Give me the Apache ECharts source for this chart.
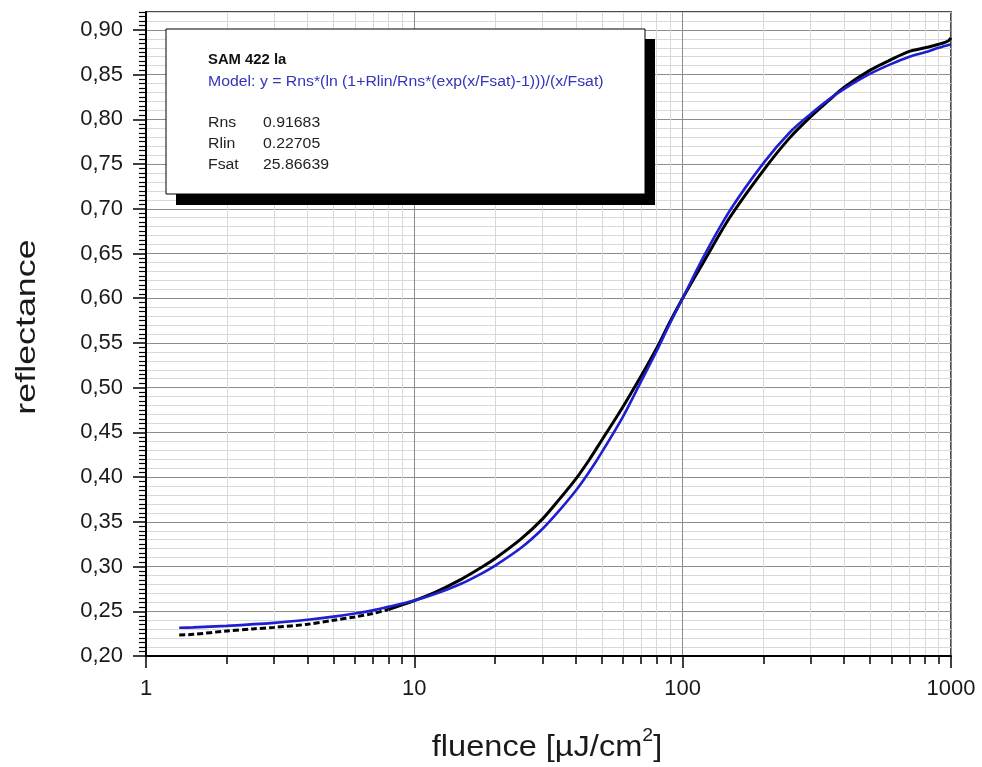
<!DOCTYPE html>
<html>
<head>
<meta charset="utf-8">
<script src="https://cdn.jsdelivr.net/npm/echarts@6/dist/echarts.min.js"></script>
<style>
  html, body { margin: 0; padding: 0; background: #ffffff; }
  #chart { width: 982px; height: 767px; }
</style>
</head>
<body>
<div id="chart"></div>
<script>
// ---- tick positions / labels ----
const xMajorTicks = [1, 10, 100, 1000];
const xMinorTicks = [2, 3, 4, 5, 6, 7, 8, 9, 20, 30, 40, 50, 60, 70, 80, 90, 200, 300, 400, 500, 600, 700, 800, 900];
const yMajorTicks = [0.20, 0.25, 0.30, 0.35, 0.40, 0.45, 0.50, 0.55, 0.60, 0.65, 0.70, 0.75, 0.80, 0.85, 0.90];
const yMin = 0.20, yMax = 0.92;

// ---- measured curve (black), sparse dotted start ----
const measLowX = [1.33, 1.5, 2, 2.5, 3, 4, 5, 6, 7, 8];
const measLowY = [0.2235, 0.2242, 0.228, 0.2303, 0.232, 0.2355, 0.2400, 0.2437, 0.2475, 0.2520];
// ---- measured curve (black), solid part ----
const measX = [8, 10, 12, 15, 18, 20, 25, 30, 35, 40, 45, 50, 60, 70, 80, 90, 100, 120, 150, 200, 250, 300, 350, 400, 500, 600, 700, 800, 900, 950, 980, 1000];
const measY = [0.2520, 0.2620, 0.2715, 0.2860, 0.3000, 0.3090, 0.3310, 0.3530, 0.3765, 0.3980, 0.4200, 0.4415, 0.4790, 0.5130, 0.5440, 0.5745, 0.6000, 0.6410, 0.6905, 0.7430, 0.7790, 0.8030, 0.8210, 0.8360, 0.8550, 0.8670, 0.8760, 0.8800, 0.8840, 0.8860, 0.8880, 0.8910];
// ---- model curve (blue) ----
const fitX = [1.33, 1.5, 2, 3, 4, 5, 6, 7, 8, 10, 12, 15, 18, 20, 25, 30, 35, 40, 45, 50, 60, 70, 80, 90, 100, 120, 150, 200, 250, 300, 350, 400, 500, 600, 700, 800, 900, 1000];
const fitY = [0.2315, 0.232, 0.2337, 0.237, 0.2405, 0.244, 0.2475, 0.251, 0.255, 0.262, 0.2695, 0.281, 0.293, 0.301, 0.321, 0.342, 0.364, 0.385, 0.4066, 0.428, 0.468, 0.507, 0.541, 0.573, 0.600, 0.647, 0.698, 0.751, 0.785, 0.806, 0.822, 0.834, 0.851, 0.862, 0.870, 0.875, 0.880, 0.884];

// minor y ticks (0.005 steps) and minor y grid (0.01 steps), excluding majors
const yMinorGrid = [];
const yMinorTicks = [];
for (let i = 0; i <= 144; i++) {
  const v = Math.round((yMin + i * 0.005) * 1000) / 1000;
  if (v > yMax) break;
  if (i % 10 === 0) continue;
  yMinorTicks.push(v);
  if (i % 2 === 0) yMinorGrid.push(v);
}

const FONT = '"Liberation Sans", Arial, sans-serif';
const zip = (xs, ys) => xs.map((x, i) => [x, ys[i]]);

const chart = echarts.init(document.getElementById('chart'), null, { renderer: 'canvas' });

const option = {
  backgroundColor: '#ffffff',
  animation: false,
  grid: {
    left: 146, right: 31, top: 12, bottom: 111,
    show: true, borderColor: '#111', borderWidth: 1.5, backgroundColor: 'transparent',
    containLabel: false
  },
  xAxis: [
    {
      type: 'log', logBase: 10, min: 1, max: 1000, position: 'bottom',
      axisLine: { show: true, onZero: false, lineStyle: { color: '#000', width: 2 } },
      axisTick: { show: true, customValues: xMajorTicks, length: 12, lineStyle: { color: '#000', width: 1.5 } },
      axisLabel: { show: true, customValues: xMajorTicks, margin: 22, fontSize: 22, color: '#1a1a1a', fontFamily: FONT,
        formatter: v => String(Math.round(v)) },
      splitLine: { show: true, lineStyle: { color: '#8c8c8c', width: 1 } },
      minorTick: { show: false }, minorSplitLine: { show: false }
    },
    {
      type: 'log', logBase: 10, min: 1, max: 1000, position: 'bottom', offset: 0,
      axisLine: { show: false },
      axisTick: { show: true, customValues: xMinorTicks, length: 8, lineStyle: { color: '#000', width: 1.5 } },
      axisLabel: { show: false },
      splitLine: { show: true, lineStyle: { color: '#d9d9d9', width: 1 } }
    }
  ],
  yAxis: [
    {
      type: 'value', min: yMin, max: yMax, position: 'left',
      axisLine: { show: true, onZero: false, lineStyle: { color: '#000', width: 2 } },
      axisTick: { show: true, customValues: yMajorTicks, length: 13, lineStyle: { color: '#000', width: 1.5 } },
      axisLabel: {
        show: true, customValues: yMajorTicks, margin: 23, fontSize: 22, color: '#1a1a1a', fontFamily: FONT,
        formatter: v => v.toFixed(2).replace('.', ',')
      },
      splitLine: { show: true, lineStyle: { color: '#8c8c8c', width: 1 } }
    },
    {
      type: 'value', min: yMin, max: yMax, position: 'left', offset: 0,
      axisLine: { show: false },
      axisTick: { show: false, customValues: yMinorGrid },
      axisLabel: { show: false },
      splitLine: { show: true, lineStyle: { color: '#d9d9d9', width: 1 } }
    },
    {
      type: 'value', min: yMin, max: yMax, position: 'left', offset: 0,
      axisLine: { show: false },
      axisTick: { show: true, customValues: yMinorTicks, length: 7, lineStyle: { color: '#000', width: 1.2 } },
      axisLabel: { show: false },
      splitLine: { show: false }
    }
  ],
  series: [
    {
      name: 'measured (start)', type: 'line', xAxisIndex: 0, yAxisIndex: 0,
      data: zip(measLowX, measLowY), showSymbol: false, smooth: 0.3, z: 3,
      lineStyle: { color: '#000', width: 3, type: [6, 3] }
    },
    {
      name: 'measured', type: 'line', xAxisIndex: 0, yAxisIndex: 0,
      data: zip(measX, measY), showSymbol: false, smooth: 0.3, z: 3,
      lineStyle: { color: '#000', width: 3 }
    },
    {
      name: 'model', type: 'line', xAxisIndex: 0, yAxisIndex: 0,
      data: zip(fitX, fitY), showSymbol: false, smooth: 0.3, z: 4,
      lineStyle: { color: '#1e1ed2', width: 2.6 }
    }
  ],
  graphic: [
    { type: 'rect', z: 10, shape: { x: 176, y: 39, width: 479, height: 166 }, style: { fill: '#000' } },
    { type: 'rect', z: 11, shape: { x: 166, y: 29, width: 479, height: 165 }, style: { fill: '#fff', stroke: '#000', lineWidth: 1 } },
    { type: 'text', z: 12, x: 208, y: 60, scaleX: 1.06,
      style: { text: 'SAM 422 la', font: 'bold 14px ' + FONT, fill: '#111', align: 'left', verticalAlign: 'middle' } },
    { type: 'text', z: 12, x: 208, y: 82, scaleX: 1.13,
      style: { text: 'Model: y = Rns*(ln (1+Rlin/Rns*(exp(x/Fsat)-1)))/(x/Fsat)', font: '14px ' + FONT, fill: '#3333bb', align: 'left', verticalAlign: 'middle' } },
    { type: 'text', z: 12, x: 208, y: 123, scaleX: 1.13,
      style: { text: 'Rns', font: '14px ' + FONT, fill: '#222', align: 'left', verticalAlign: 'middle' } },
    { type: 'text', z: 12, x: 263, y: 123, scaleX: 1.13,
      style: { text: '0.91683', font: '14px ' + FONT, fill: '#222', align: 'left', verticalAlign: 'middle' } },
    { type: 'text', z: 12, x: 208, y: 144, scaleX: 1.13,
      style: { text: 'Rlin', font: '14px ' + FONT, fill: '#222', align: 'left', verticalAlign: 'middle' } },
    { type: 'text', z: 12, x: 263, y: 144, scaleX: 1.13,
      style: { text: '0.22705', font: '14px ' + FONT, fill: '#222', align: 'left', verticalAlign: 'middle' } },
    { type: 'text', z: 12, x: 208, y: 165, scaleX: 1.13,
      style: { text: 'Fsat', font: '14px ' + FONT, fill: '#222', align: 'left', verticalAlign: 'middle' } },
    { type: 'text', z: 12, x: 263, y: 165, scaleX: 1.13,
      style: { text: '25.86639', font: '14px ' + FONT, fill: '#222', align: 'left', verticalAlign: 'middle' } },
    // axis titles
    { type: 'text', z: 12, x: 27, y: 327, rotation: Math.PI / 2, scaleX: 1.28,
      style: { text: 'reflectance', font: '28px ' + FONT, fill: '#1a1a1a', align: 'center', verticalAlign: 'middle' } },
    { type: 'text', z: 12, x: 547, y: 745, scaleX: 1.085,
      style: {
        text: '{a|fluence [µJ/cm}{b|2}{a|]}', align: 'center', verticalAlign: 'middle',
        rich: {
          a: { fontSize: 30, fontFamily: FONT, fill: '#1a1a1a', lineHeight: 36, verticalAlign: 'bottom' },
          b: { fontSize: 18, fontFamily: FONT, fill: '#1a1a1a', lineHeight: 36, verticalAlign: 'top' }
        }
      } }
  ]
};

chart.setOption(option);
</script>
</body>
</html>
